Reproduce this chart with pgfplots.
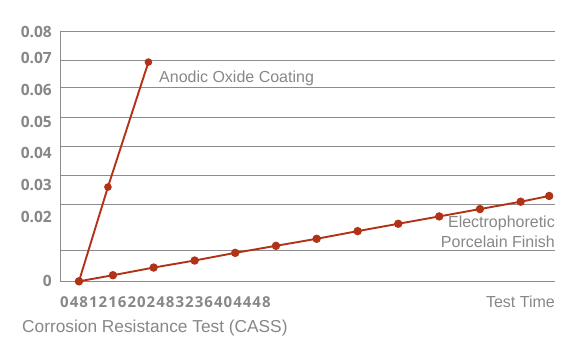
\documentclass[border=0pt]{standalone}
\usepackage{pgfplots}
\pgfplotsset{compat=1.18}
\usepackage{fontspec}
\setmainfont{Liberation Sans}
\newfontfamily\tickfont{Open Sans}
\definecolor{lineRed}{RGB}{178,50,24}
\definecolor{txtGray}{RGB}{135,135,135}
\definecolor{gridGray}{RGB}{140,140,140}
\begin{document}
\begin{tikzpicture}
\useasboundingbox (0,0) rectangle (584bp,356bp);
\begin{axis}[
  at={(60bp,74.7bp)}, anchor=south west,
  scale only axis, width=495bp, height=249.6bp,
  xmin=-1.86, xmax=46.67, ymin=0, ymax=0.0781,
  axis line style={draw=none},
  xtick=\empty,
  ytick={0,0.0095,0.0239,0.033,0.0423,0.0513,0.0607,0.069,0.0781},
  yticklabels={},
  ymajorgrids,
  major grid style={draw=gridGray, line width=0.9bp},
  major tick length=0pt,
  scaled y ticks=false,
  extra y ticks={0,0.02,0.03,0.04,0.05,0.06,0.07,0.0781},
  extra y tick labels={0,0.02,0.03,0.04,0.05,0.06,0.07,0.08},
  extra y tick style={grid=none, yticklabel style={anchor=east, inner sep=0pt, xshift=-8bp, text=txtGray, font=\tickfont\bfseries\fontsize{15.5bp}{15.5bp}\selectfont}},
  clip=false,
]
\draw[gridGray, line width=0.9bp] (rel axis cs:0,0) -- (rel axis cs:0,1);
\addplot[lineRed, line width=1.9bp, mark=*, mark size=2.8bp, mark options={fill=lineRed, draw=lineRed}] coordinates {
  (0,0) (2.84,0.0295) (6.81,0.0686)
};
\addplot[lineRed, line width=1.9bp, mark=*, mark size=3.2bp, mark options={fill=lineRed, draw=lineRed}] coordinates {
  (0,0) (3.33,0.0019) (7.32,0.0043) (11.34,0.0065) (15.32,0.0089) (19.31,0.0111)
  (23.3,0.0133) (27.32,0.0157) (31.3,0.0180) (35.32,0.0203) (39.31,0.0226)
  (43.3,0.0249) (46.1,0.0267)
};
\end{axis}
\begin{scope}[every node/.style={text=txtGray, inner sep=0pt}]
\node[anchor=west, font=\fontsize{16bp}{19bp}\selectfont] at (159bp,{356bp-78bp}) {Anodic Oxide Coating};
\node[anchor=east, align=right, font=\fontsize{16bp}{19.7bp}\selectfont] at (555bp,{356bp-232bp}) {Electrophoretic\\Porcelain Finish};
\node[anchor=east, font=\fontsize{16bp}{19bp}\selectfont] at (555bp,{356bp-301.7bp}) {Test Time};
\node[anchor=west, font=\fontsize{17.3bp}{19bp}\selectfont] at (22bp,{356bp-328bp}) {Corrosion Resistance Test (CASS)};
\node[anchor=west, font=\tickfont\bfseries\fontsize{15bp}{15bp}\selectfont\addfontfeature{LetterSpace=7}] at (60bp,{356bp-301.7bp}) {0481216202483236404448};
\end{scope}
\end{tikzpicture}
\end{document}
